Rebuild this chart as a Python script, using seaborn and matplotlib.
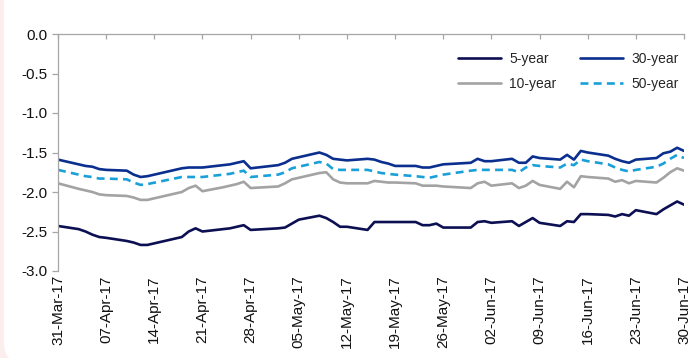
import matplotlib
matplotlib.use("Agg")
import matplotlib.pyplot as plt
import matplotlib.dates as mdates
from matplotlib.patches import FancyBboxPatch
import seaborn as sns
import pandas as pd
import numpy as np

dates = [
    "2017-03-31",
    "2017-04-03", "2017-04-04", "2017-04-05", "2017-04-06", "2017-04-07",
    "2017-04-10", "2017-04-11", "2017-04-12", "2017-04-13",
    "2017-04-18", "2017-04-19", "2017-04-20", "2017-04-21",
    "2017-04-24", "2017-04-25", "2017-04-26", "2017-04-27", "2017-04-28",
    "2017-05-02", "2017-05-03", "2017-05-04", "2017-05-05",
    "2017-05-08", "2017-05-09", "2017-05-10", "2017-05-11", "2017-05-12",
    "2017-05-15", "2017-05-16", "2017-05-17", "2017-05-18", "2017-05-19",
    "2017-05-22", "2017-05-23", "2017-05-24", "2017-05-25", "2017-05-26",
    "2017-05-30", "2017-05-31", "2017-06-01", "2017-06-02",
    "2017-06-05", "2017-06-06", "2017-06-07", "2017-06-08", "2017-06-09",
    "2017-06-12", "2017-06-13", "2017-06-14", "2017-06-15", "2017-06-16",
    "2017-06-19", "2017-06-20", "2017-06-21", "2017-06-22", "2017-06-23",
    "2017-06-26", "2017-06-27", "2017-06-28", "2017-06-29", "2017-06-30",
]

y5 = [-2.43,
      -2.47, -2.50, -2.54, -2.57, -2.58,
      -2.62, -2.64, -2.67, -2.67,
      -2.57, -2.50, -2.46, -2.50,
      -2.47, -2.46, -2.44, -2.42, -2.48,
      -2.46, -2.45, -2.40, -2.35,
      -2.30, -2.33, -2.38, -2.44, -2.44,
      -2.48, -2.38, -2.38, -2.38, -2.38,
      -2.38, -2.42, -2.42, -2.40, -2.45,
      -2.45, -2.38, -2.37, -2.39,
      -2.37, -2.43, -2.38, -2.33, -2.39,
      -2.43, -2.37, -2.38, -2.28, -2.28,
      -2.29, -2.31, -2.28, -2.30, -2.23,
      -2.28, -2.22, -2.17, -2.12, -2.16]

y10 = [-1.89,
       -1.96, -1.98, -2.00, -2.03, -2.04,
       -2.05, -2.07, -2.10, -2.10,
       -2.00, -1.95, -1.92, -1.99,
       -1.94, -1.92, -1.90, -1.87, -1.95,
       -1.93, -1.89, -1.84, -1.82,
       -1.76, -1.75, -1.84, -1.88, -1.89,
       -1.89, -1.86, -1.87, -1.88, -1.88,
       -1.89, -1.92, -1.92, -1.92, -1.93,
       -1.95, -1.89, -1.87, -1.92,
       -1.89, -1.95, -1.92, -1.86, -1.91,
       -1.96, -1.87, -1.94, -1.80, -1.81,
       -1.83, -1.87, -1.85, -1.89, -1.86,
       -1.88, -1.82, -1.75, -1.70, -1.73]

y30 = [-1.59,
       -1.65, -1.67, -1.68, -1.71, -1.72,
       -1.73, -1.78, -1.81, -1.80,
       -1.70, -1.69, -1.69, -1.69,
       -1.66, -1.65, -1.63, -1.61, -1.70,
       -1.66, -1.63, -1.58, -1.56,
       -1.50, -1.53, -1.58, -1.59, -1.60,
       -1.58, -1.59, -1.62, -1.64, -1.67,
       -1.67, -1.69, -1.69, -1.67, -1.65,
       -1.63, -1.58, -1.61, -1.61,
       -1.58, -1.63, -1.63, -1.55, -1.57,
       -1.59, -1.53, -1.59, -1.48, -1.50,
       -1.54, -1.58, -1.61, -1.63, -1.59,
       -1.57, -1.51, -1.49, -1.44, -1.48]

y50 = [-1.72,
       -1.78, -1.80, -1.81, -1.83, -1.83,
       -1.84, -1.88, -1.91, -1.90,
       -1.81, -1.81, -1.81, -1.81,
       -1.78, -1.77, -1.75, -1.73, -1.81,
       -1.78, -1.75, -1.70, -1.68,
       -1.62, -1.64, -1.71, -1.72, -1.72,
       -1.72, -1.74, -1.76, -1.77, -1.78,
       -1.80, -1.81, -1.82, -1.80, -1.78,
       -1.73, -1.72, -1.72, -1.72,
       -1.72, -1.75, -1.69, -1.66, -1.67,
       -1.69, -1.64, -1.66, -1.59, -1.61,
       -1.65, -1.69, -1.72, -1.74, -1.72,
       -1.68, -1.64, -1.58, -1.53, -1.57]

series_names = ["5-year", "10-year", "30-year", "50-year"]
tick_dates = ["2017-03-31", "2017-04-07", "2017-04-14", "2017-04-21", "2017-04-28",
              "2017-05-05", "2017-05-12", "2017-05-19", "2017-05-26", "2017-06-02",
              "2017-06-09", "2017-06-16", "2017-06-23", "2017-06-30"]
y_ticks = [0.0, -0.5, -1.0, -1.5, -2.0, -2.5, -3.0]

colors = {"5-year": "#0c0f52", "10-year": "#a3a3a3", "30-year": "#0b2f8e", "50-year": "#1aa0d8"}
dashes = {"5-year": "", "10-year": "", "30-year": "", "50-year": (3, 2)}

df = pd.concat([
    pd.DataFrame({"date": pd.to_datetime(dates), "value": vals, "tenor": name})
    for name, vals in zip(series_names, [y5, y10, y30, y50])
], ignore_index=True)

sns.set_style("white")
plt.rcParams["font.family"] = ["Liberation Sans", "DejaVu Sans"]

fig = plt.figure(figsize=(6.95, 3.58), dpi=100)
fig.patch.set_facecolor("#fbeeed")
bg = FancyBboxPatch((4, -5), 800, 420, boxstyle="round,pad=0,rounding_size=20",
                    transform=None, facecolor="white", edgecolor="none", zorder=0)
fig.add_artist(bg)

ax = fig.add_axes([58 / 695, 1 - 271 / 358, (684 - 58) / 695, (271 - 34) / 358])
ax.set_facecolor("white")

sns.lineplot(data=df, x="date", y="value", hue="tenor", style="tenor",
             hue_order=series_names, style_order=series_names,
             palette=colors, dashes=dashes, linewidth=1.9, legend=False, ax=ax)

ax.set_xlim(pd.Timestamp("2017-03-31"), pd.Timestamp("2017-06-30"))
ax.set_ylim(-3.0, 0.0)
ax.set_xticks(pd.to_datetime(tick_dates))
ax.xaxis.set_major_formatter(mdates.DateFormatter("%d-%b-%y"))
ax.set_yticks(y_ticks)
ax.set_yticklabels([f"{v:.1f}" for v in y_ticks])
ax.set_xlabel("")
ax.set_ylabel("")

spine_col = "#a6a6a6"
for s in ["right", "bottom"]:
    ax.spines[s].set_visible(False)
for s in ["left", "top"]:
    ax.spines[s].set_visible(True)
    ax.spines[s].set_color(spine_col)
    ax.spines[s].set_linewidth(0.9)

ax.tick_params(axis="x", which="major", top=True, bottom=False, labeltop=False,
               labelbottom=True, direction="in", length=3.5, width=0.9,
               color=spine_col, labelsize=11, labelcolor="#111111", pad=3,
               labelrotation=90)
ax.tick_params(axis="y", which="major", left=True, direction="out", length=4,
               width=0.9, color=spine_col, labelsize=11, labelcolor="#111111", pad=3.5)

handles = ax.get_lines()[:4]
leg = ax.legend(handles=handles, labels=series_names, ncol=2, frameon=False,
                loc="upper left", bbox_to_anchor=(0.6385, 0.925),
                borderaxespad=0, borderpad=0, fontsize=10, handlelength=3.1,
                handletextpad=0.6, columnspacing=1.7, labelspacing=0.8)

fig.savefig("out.png", dpi=100, facecolor=fig.get_facecolor())
